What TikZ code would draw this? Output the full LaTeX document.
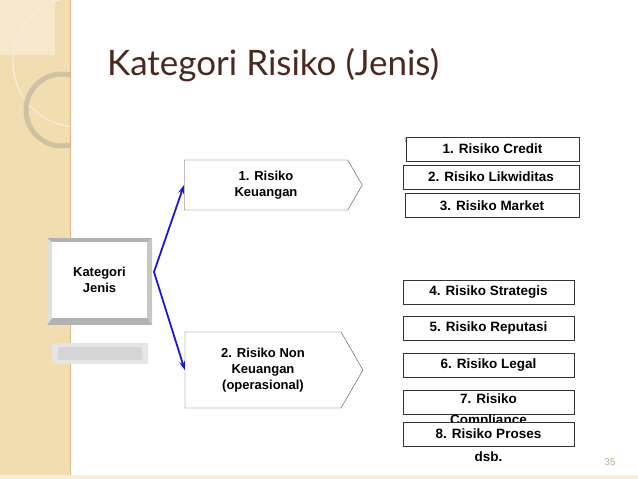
\documentclass[tikz,border=0pt]{standalone}
\usepackage{fontspec}
\setmainfont{Liberation Sans}
\newfontfamily\titlefont{Lato}
\usetikzlibrary{arrows.meta,shapes.symbols}
\definecolor{beige}{HTML}{F1DDB0}
\definecolor{titlec}{HTML}{4A2A1F}
\definecolor{arrowc}{HTML}{1A1ACC}
\tikzset{
  rbox/.style={draw=black!80,fill=white,line width=0.6pt,minimum width=172pt,minimum height=24pt,inner sep=0pt,font=\bfseries\fontsize{13.5}{14}\selectfont},
  penta/.style={draw=black!70,fill=white,line width=0.4pt,signal,signal to=east,signal pointer angle=120,minimum width=178pt,align=center,inner sep=0pt,font=\bfseries\fontsize{13}{16}\selectfont},
  arr/.style={draw=arrowc,line width=1.8pt,-{Stealth[length=9pt,width=6pt]}}
}
\begin{document}
\begin{tikzpicture}[x=1pt,y=-1pt]
\useasboundingbox (0,0) rectangle (638,479);
\fill[white] (0,0) rectangle (638,479);
% left band
\fill[beige] (0,0) rectangle (70,479);
\fill[beige!50] (0,475) rectangle (638,479);
\draw[beige!60!brown,line width=1pt] (70,0) -- (70,475);
\fill[white,opacity=0.35] (0,0) rectangle (55,55);
\begin{scope}
\clip (0,0) rectangle (70,479);
\draw[white!85!brown,line width=1.2pt] (78,62) circle (65);
\draw[beige!70!gray,line width=5pt] (62,110) circle (36);
\end{scope}
% title
\node[anchor=base west,text=titlec,font=\titlefont\fontsize{35}{38}\selectfont,inner sep=0pt] (title) at (107,75) {Kategori Risiko (Jenis)};
% kategori jenis bevel box
\fill[gray!20] (52,343) rectangle (148,364);
\fill[gray!32] (58,347) rectangle (142,360);
\fill[gray!60] (47,238) -- (152,238) -- (152,325) -- (47,325) -- cycle;
\fill[gray!25] (47,238) -- (52,242) -- (52,318) -- (47,325) -- cycle;
\fill[gray!45] (152,238) -- (147,242) -- (147,318) -- (152,325) -- cycle;
\node[fill=white,minimum width=95pt,minimum height=76pt,inner sep=0pt,align=center,font=\bfseries\fontsize{13}{16}\selectfont] (kj) at (99.5,280) {Kategori\\Jenis};
% pentagons
\node[penta,minimum height=50pt] (p1) at (266,185) {1. Risiko\\Keuangan};
\node[penta,minimum height=76pt] (p2) at (263,370) {2. Risiko Non\\Keuangan\\(operasional)};
\coordinate (fork) at (154,272);
\draw[arr] (fork) -- (p1.west);
\draw[arr] (fork) -- (p2.west);
% green arc
\draw[green!50!gray,line width=0.5pt] (405,137) arc (180:0:7 and 10);
% right boxes
\node[rbox,minimum width=173pt] (b1) at (492.5,149) {1. Risiko Credit};
\node[rbox,minimum width=176pt] (b2) at (491,177) {2. Risiko Likwiditas};
\node[rbox,minimum width=174pt] (b3) at (492,205.5) {3. Risiko Market};
\node[rbox,minimum width=171pt] (b4) at (488.5,292.5) {4. Risiko Strategis};
\node[rbox,minimum width=171pt] (b5) at (488.5,328) {5. Risiko Reputasi};
\node[rbox,minimum width=171pt] (b6) at (488.5,365) {6. Risiko Legal};
\node[rbox,minimum width=171pt] (b7) at (488.5,402) {};
\node[font=\bfseries\fontsize{13.5}{21}\selectfont,align=center,anchor=north,inner sep=0pt] (t7) at (488.5,394) {7. Risiko\\Compliance};
\node[rbox,minimum width=171pt] (b8) at (488.5,434) {8. Risiko Proses};
\node[font=\bfseries\fontsize{13.5}{14}\selectfont,inner sep=0pt] (dsb) at (488.5,457) {dsb.};
\node[text=beige!50!gray,font=\fontsize{10}{11}\selectfont] (pg) at (610,462) {35};
\end{tikzpicture}
\end{document}
